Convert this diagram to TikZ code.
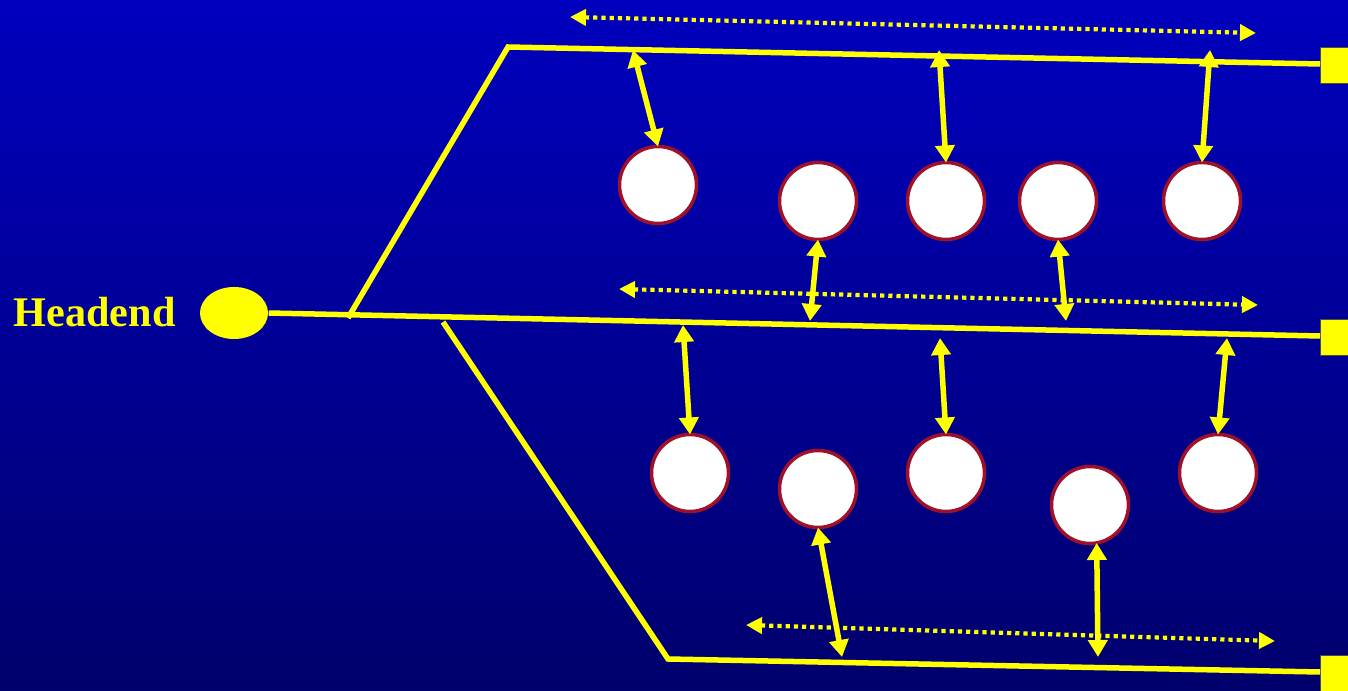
\documentclass[tikz,border=0pt]{standalone}
\usepackage{fontspec}
\setmainfont{Liberation Serif}
\usetikzlibrary{arrows.meta,shapes.geometric}
\definecolor{ylw}{RGB}{255,255,0}
\definecolor{ring}{RGB}{160,16,40}
\definecolor{bgtop}{RGB}{0,0,190}
\definecolor{bgbot}{RGB}{0,0,108}
\begin{document}
\begin{tikzpicture}[x=0.01cm,y=-0.01cm,
  cable/.style={draw=ylw,line width=0.055cm},
  link/.style={draw=ylw,line width=0.055cm,{Triangle[width=0.19cm,length=0.17cm]}-{Triangle[width=0.19cm,length=0.17cm]}},
  bcast/.style={draw=ylw,line width=0.042cm,dash pattern=on 0.042cm off 0.04cm,{Triangle[width=0.16cm,length=0.16cm]}-{Triangle[width=0.16cm,length=0.16cm]}},
  host/.style={circle,draw=ring,line width=0.035cm,fill=white,minimum size=0.77cm,inner sep=0pt,outer sep=0pt},
  term/.style={rectangle,fill=ylw,draw=gray!60!black,line width=0.01cm,minimum width=0.36cm,minimum height=0.36cm,inner sep=0pt,anchor=north west}]
\useasboundingbox (0,0) rectangle (1348,691);
\clip (0,0) rectangle (1348,691);
\shade[top color=bgtop,bottom color=bgbot] (0,0) rectangle (1348,691);
% terminators
\node[term] (t1) at (1320,47) {};
\node[term] (t2) at (1320,319) {};
\node[term] (t3) at (1320,655) {};
% headend
\node[font=\fontsize{12}{14}\selectfont\bfseries,text=ylw,anchor=base west,inner sep=0pt] (hl) at (13,327) {Headend};
\node[ellipse,fill=ylw,minimum width=0.68cm,minimum height=0.52cm,inner sep=0pt] (he) at (234,313) {};
% junction coordinates
\coordinate (ja) at (348,318);
\coordinate (jb) at (443,322);
\coordinate (ta) at (508,47);
\coordinate (ba) at (668,659);
\coordinate (mr) at (1320,336);
\coordinate (tr) at (1320,64);
\coordinate (br) at (1320,672);
% cables
\draw[cable] (he.east) -- (mr);
\draw[cable] (ja) -- (ta) -- (tr);
\draw[cable] (jb) -- (ba) -- (br);
% hosts
\node[host] (c1) at (658,185) {};
\node[host] (c2) at (818,201) {};
\node[host] (c3) at (946,201) {};
\node[host] (c4) at (1058,201) {};
\node[host] (c5) at (1202,201) {};
\node[host] (d1) at (690,473) {};
\node[host] (d2) at (818,489) {};
\node[host] (d3) at (946,473) {};
\node[host] (d4) at (1090,505) {};
\node[host] (d5) at (1218,473) {};
% broadcast dotted arrows
\coordinate (b1l) at (570,17);   \coordinate (b1r) at (1256,33);
\coordinate (b2l) at (619,289);  \coordinate (b2r) at (1258,305);
\coordinate (b3l) at (746,625);  \coordinate (b3r) at (1275,641);
\draw[bcast] (b1l) -- (b1r);
\draw[bcast] (b2l) -- (b2r);
\draw[bcast] (b3l) -- (b3r);
% taps
\coordinate (p1) at (633,50);
\coordinate (p2) at (939,50);
\coordinate (p3) at (1210,50);
\coordinate (q2) at (810,321);
\coordinate (q4) at (1066,321);
\coordinate (r1) at (683,325);
\coordinate (r3) at (940,338);
\coordinate (r5) at (1227,338);
\coordinate (s2) at (842,657);
\coordinate (s4) at (1098,657);
\draw[link] (p1) -- (c1.north);
\draw[link] (p2) -- (c3.north);
\draw[link] (p3) -- (c5.north);
\draw[link] (c2.south) -- (q2);
\draw[link] (c4.south) -- (q4);
\draw[link] (r1) -- (d1.north);
\draw[link] (r3) -- (d3.north);
\draw[link] (r5) -- (d5.north);
\draw[link] (d2.south) -- (s2);
\draw[link] (d4.-80) -- (s4);
\end{tikzpicture}
\end{document}
